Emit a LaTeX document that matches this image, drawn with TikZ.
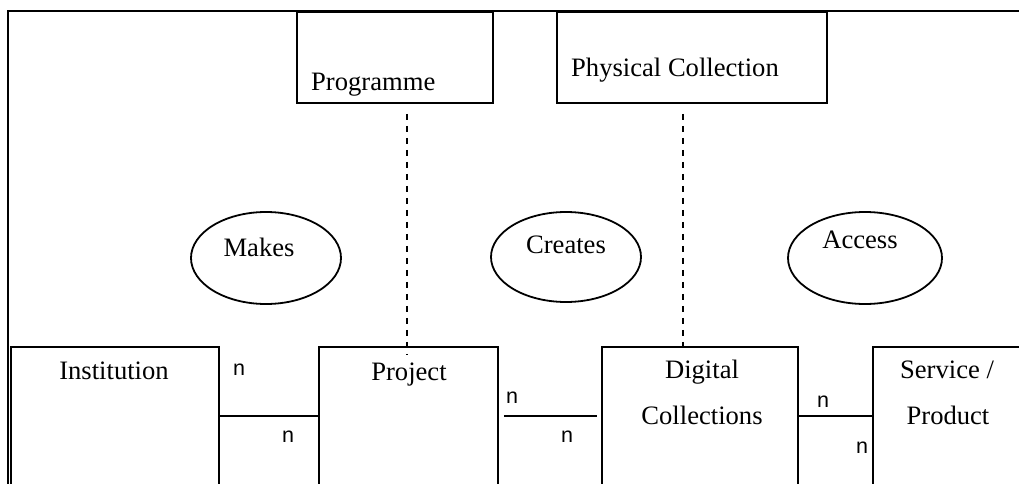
\documentclass[tikz,border=0pt]{standalone}
\usepackage{fontspec}
\setmainfont{Liberation Serif}
\newfontfamily\nfont{Liberation Sans}
\usetikzlibrary{shapes.geometric}
\begin{document}
\begin{tikzpicture}[x=1pt,y=-1pt,
 box/.style={draw, line width=1.8pt, inner sep=0pt, rectangle},
 rel/.style={draw, ellipse, line width=1.8pt, inner sep=0pt},
 lbl/.style={font=\fontsize{26.6}{30}\selectfont, inner sep=0pt},
 card/.style={font=\nfont\fontsize{21.5}{24}\selectfont, inner sep=0pt, anchor=base},
 link/.style={line width=1.8pt},
 dashlink/.style={line width=1.6pt, dash pattern=on 6pt off 6pt}]
\useasboundingbox (0,0) rectangle (1019,484);
\clip (0,0) rectangle (1019,484);
\fill[white] (0,0) rectangle (1019,484);
% outer frame
\draw[line width=2.4pt] (1030,11) -- (8,11) -- (8,495);
% top boxes
\node[box, minimum width=196pt, minimum height=91pt] (prog) at (395,57.5) {};
\node[box, minimum width=270pt, minimum height=91pt] (phys) at (692,57.5) {};
\node[lbl, anchor=base west] (progt) at (311,91) {Programme};
\node[lbl, anchor=base west] (physt) at (571,77) {Physical Collection};
% bottom boxes
\node[box, minimum width=208pt, minimum height=138pt] (inst) at (115,416) {};
\node[box, minimum width=179pt, minimum height=138pt] (proj) at (408.5,416) {};
\node[box, minimum width=196pt, minimum height=138pt] (dc) at (700,416) {};
\node[box, minimum width=157pt, minimum height=138pt] (sp) at (951.5,416) {};
\node[lbl, anchor=base] (instt) at (114,379) {Institution};
\node[lbl, anchor=base] (projt) at (409,380) {Project};
\node[lbl, anchor=base] (dct1) at (702,378) {Digital};
\node[lbl, anchor=base] (dct2) at (702,424) {Collections};
\node[lbl, anchor=base] (spt1) at (947,378) {Service /};
\node[lbl, anchor=base] (spt2) at (948,424) {Product};
% relationship ellipses
\node[rel, minimum width=150pt, minimum height=92pt] (makes) at (266,258) {};
\node[rel, minimum width=150pt, minimum height=90pt] (creates) at (566,257) {};
\node[rel, minimum width=154pt, minimum height=92pt] (access) at (865,258) {};
\node[lbl, anchor=base] (makest) at (259,256) {Makes};
\node[lbl, anchor=base] (createst) at (566,253) {Creates};
\node[lbl, anchor=base] (accesst) at (860,248) {Access};
% connectors
\draw[link] (inst.east) -- (proj.west);
\draw[link, shorten <=5pt, shorten >=4pt] (proj.east) -- (dc.west);
\draw[link] (dc.east) -- (sp.west);
\coordinate (d1) at (407,0);
\coordinate (d2) at (683,0);
\draw[dashlink, shorten <=10pt, shorten >=-8pt] (d1 |- prog.south) -- (d1 |- proj.north);
\draw[dashlink, shorten <=10pt] (d2 |- phys.south) -- (d2 |- dc.north);
% cardinalities
\node[card] (n1) at (239,375) {n};
\node[card] (n2) at (288,442) {n};
\node[card] (n3) at (512,403) {n};
\node[card] (n4) at (567,442) {n};
\node[card] (n5) at (823,407) {n};
\node[card] (n6) at (862,453) {n};
\end{tikzpicture}
\end{document}
